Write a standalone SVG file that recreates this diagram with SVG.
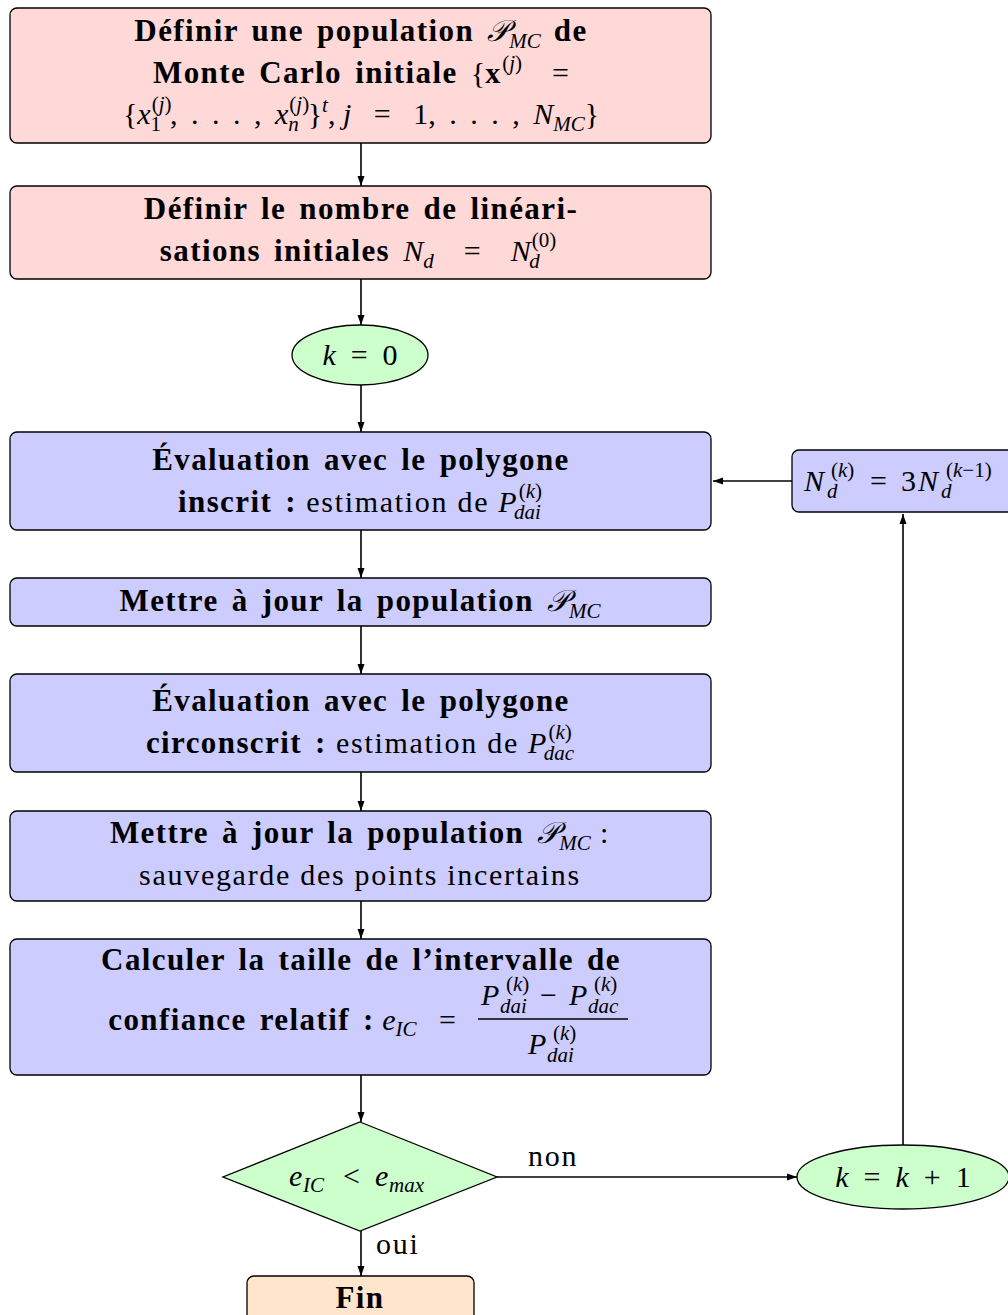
<svg xmlns="http://www.w3.org/2000/svg" width="1008" height="1315" viewBox="0 0 1008 1315">
<style>
text{font-family:"Liberation Serif","DejaVu Serif",serif;font-size:30px;fill:#000;letter-spacing:0}
.bd{font-weight:bold;font-size:31px;letter-spacing:1.4px;word-spacing:4px}
.bx{font-weight:bold;letter-spacing:0}
.rg{letter-spacing:1.7px}
.m{font-style:italic;letter-spacing:0}
.s{font-size:21px;letter-spacing:0}
.ms{font-size:21px;font-style:italic;letter-spacing:0}
.dots{letter-spacing:3px}
.cal{font-family:"DejaVu Serif","Noto Sans",serif;font-style:italic;letter-spacing:0}
.box{stroke:#000;stroke-width:1.3}
.pink{fill:#ffd8d8}
.blue{fill:#ccccff}
.green{fill:#ccffcc}
.orange{fill:#ffe5cc}
.c{stroke:#000;stroke-width:1.6;fill:none;marker-end:url(#ah)}
</style>
<defs>
<marker id="ah" markerWidth="10" markerHeight="8" refX="10" refY="4" orient="auto" markerUnits="userSpaceOnUse">
<path d="M0,0.5 L10,4 L0,7.5 z" fill="#000"/>
</marker>
</defs>

<g id="connectors">
<line class="c" x1="361" y1="143" x2="361" y2="186"/>
<line class="c" x1="361" y1="279" x2="361" y2="325"/>
<line class="c" x1="361" y1="385" x2="361" y2="432"/>
<line class="c" x1="361" y1="530" x2="361" y2="578"/>
<line class="c" x1="361" y1="626" x2="361" y2="674"/>
<line class="c" x1="361" y1="772" x2="361" y2="811"/>
<line class="c" x1="361" y1="901" x2="361" y2="939"/>
<line class="c" x1="361" y1="1075" x2="361" y2="1122"/>
<line class="c" x1="361" y1="1231" x2="361" y2="1276"/>
<line class="c" x1="497" y1="1177" x2="797" y2="1177"/>
<line class="c" x1="903" y1="1145" x2="903" y2="514"/>
<line class="c" x1="792" y1="481" x2="713" y2="481"/>
<text x="528" y="1166" class="rg">non</text>
<text x="376" y="1254" class="rg">oui</text>
</g>

<g id="n1">
<rect class="box pink" x="10" y="8" width="701" height="135" rx="7"/>
<text x="361" y="41" text-anchor="middle" xml:space="preserve"><tspan class="bd">Définir une population </tspan><tspan class="cal">𝒫</tspan><tspan class="ms" dy="7">MC</tspan><tspan class="bd" dy="-7"> de</tspan></text>
<text x="361" y="83" text-anchor="middle" xml:space="preserve"><tspan class="bd">Monte Carlo initiale </tspan><tspan>{</tspan><tspan class="bx">x</tspan><tspan class="s" dx="2" dy="-13">(<tspan class="ms">j</tspan>)</tspan><tspan dy="13">    =</tspan></text>
<text x="361" y="124" text-anchor="middle" xml:space="preserve">{<tspan class="m">x</tspan><tspan class="s" dx="1" dy="-13">(<tspan class="ms">j</tspan>)</tspan><tspan class="s" dx="-21" dy="20">1</tspan><tspan class="dots" dx="9" dy="-7">, . . . , </tspan><tspan class="m">x</tspan><tspan class="s" dx="1" dy="-13">(<tspan class="ms">j</tspan>)</tspan><tspan class="ms" dx="-21" dy="20">n</tspan><tspan dx="9" dy="-7">}</tspan><tspan class="ms" dy="-12">t</tspan><tspan dy="12">, </tspan><tspan class="m">j</tspan><tspan>   =   1</tspan><tspan class="dots">, . . . , </tspan><tspan class="m">N</tspan><tspan class="ms" dy="7">MC</tspan><tspan dy="-7">}</tspan></text>
</g>

<g id="n2">
<rect class="box pink" x="10" y="186" width="701" height="93" rx="7"/>
<text x="361" y="219" text-anchor="middle" class="bd">Définir le nombre de linéari-</text>
<text x="358" y="261" text-anchor="middle" xml:space="preserve"><tspan class="bd">sations initiales </tspan><tspan class="m">N</tspan><tspan class="ms" dy="7">d</tspan><tspan dy="-7">    =    </tspan><tspan class="m">N</tspan><tspan class="s" dx="1" dy="-14">(0)</tspan><tspan class="ms" dx="-27" dy="21">d</tspan></text>
</g>

<g id="n3">
<ellipse class="box green" cx="360" cy="355" rx="68" ry="30"/>
<text x="360" y="365" text-anchor="middle" xml:space="preserve"><tspan class="m">k</tspan>  =  0</text>
</g>

<g id="n4">
<rect class="box blue" x="10" y="432" width="701" height="98" rx="7"/>
<text x="361" y="470" text-anchor="middle" class="bd">Évaluation avec le polygone</text>
<text x="360" y="512" text-anchor="middle" xml:space="preserve"><tspan class="bd">inscrit :</tspan><tspan class="rg"> estimation de </tspan><tspan class="m">P</tspan><tspan class="s" dx="2" dy="-14">(<tspan class="ms">k</tspan>)</tspan><tspan class="ms" dx="-28" dy="21">dai</tspan></text>
</g>

<g id="n5">
<rect class="box blue" x="10" y="578" width="701" height="48" rx="7"/>
<text x="360" y="611" text-anchor="middle" xml:space="preserve"><tspan class="bd">Mettre à jour la population </tspan><tspan class="cal">𝒫</tspan><tspan class="ms" dy="7">MC</tspan></text>
</g>

<g id="n6">
<rect class="box blue" x="10" y="674" width="701" height="98" rx="7"/>
<text x="361" y="711" text-anchor="middle" class="bd">Évaluation avec le polygone</text>
<text x="360" y="753" text-anchor="middle" xml:space="preserve"><tspan class="bd">circonscrit :</tspan><tspan class="rg"> estimation de </tspan><tspan class="m">P</tspan><tspan class="s" dx="2" dy="-14">(<tspan class="ms">k</tspan>)</tspan><tspan class="ms" dx="-28" dy="21">dac</tspan></text>
</g>

<g id="n7">
<rect class="box blue" x="10" y="811" width="701" height="90" rx="7"/>
<text x="360" y="843" text-anchor="middle" xml:space="preserve"><tspan class="bd">Mettre à jour la population </tspan><tspan class="cal">𝒫</tspan><tspan class="ms" dy="7">MC</tspan><tspan class="rg" dy="-7"> :</tspan></text>
<text x="360" y="885" text-anchor="middle" class="rg">sauvegarde des points incertains</text>
</g>

<g id="n8">
<rect class="box blue" x="10" y="939" width="701" height="136" rx="7"/>
<text x="361" y="970" text-anchor="middle" class="bd">Calculer la taille de l’intervalle de</text>
<text x="456" y="1030" text-anchor="end" xml:space="preserve"><tspan class="bd">confiance relatif :</tspan> <tspan class="m">e</tspan><tspan class="ms" dy="6">IC</tspan><tspan dy="-6">   =</tspan></text>
<text xml:space="preserve"><tspan class="m" x="481" y="1005">P</tspan><tspan class="s" x="506" y="991">(<tspan class="ms">k</tspan>)</tspan><tspan class="ms" x="500" y="1013">dai</tspan><tspan x="540" y="1005">−</tspan><tspan class="m" x="569" y="1005">P</tspan><tspan class="s" x="594" y="991">(<tspan class="ms">k</tspan>)</tspan><tspan class="ms" x="588" y="1013">dac</tspan></text>
<line x1="478" y1="1019" x2="628" y2="1019" stroke="#000" stroke-width="1.4"/>
<text xml:space="preserve"><tspan class="m" x="528" y="1054">P</tspan><tspan class="s" x="553" y="1040">(<tspan class="ms">k</tspan>)</tspan><tspan class="ms" x="547" y="1062">dai</tspan></text>
</g>

<g id="n9">
<polygon class="box green" points="360,1122 497,1177 360,1231 223,1177"/>
<text xml:space="preserve"><tspan class="m" x="289" y="1186">e</tspan><tspan class="ms" x="303" y="1192">IC</tspan><tspan x="343" y="1186">&lt;</tspan><tspan class="m" x="375" y="1186">e</tspan><tspan class="ms" x="389" y="1192">max</tspan></text>
</g>

<g id="n10">
<rect class="box orange" x="247" y="1276" width="227" height="50" rx="7"/>
<text x="360" y="1308" text-anchor="middle" class="bd">Fin</text>
</g>

<g id="n11">
<ellipse class="box green" cx="903" cy="1177" rx="106" ry="32"/>
<text x="903" y="1187" text-anchor="middle" xml:space="preserve"><tspan class="m">k</tspan>  =  <tspan class="m">k</tspan>  +  1</text>
</g>

<g id="n12">
<rect class="box blue" x="792" y="450" width="226" height="62" rx="7"/>
<text xml:space="preserve"><tspan class="m" x="804" y="491">N</tspan><tspan class="s" x="831" y="477">(<tspan class="ms">k</tspan>)</tspan><tspan class="ms" x="827" y="498">d</tspan><tspan x="870" y="491">=</tspan><tspan x="901" y="491">3</tspan><tspan class="m" x="918" y="491">N</tspan><tspan class="s" x="946" y="477" letter-spacing="1.5">(<tspan class="ms">k</tspan>−1)</tspan><tspan class="ms" x="941" y="498">d</tspan></text>
</g>
</svg>
